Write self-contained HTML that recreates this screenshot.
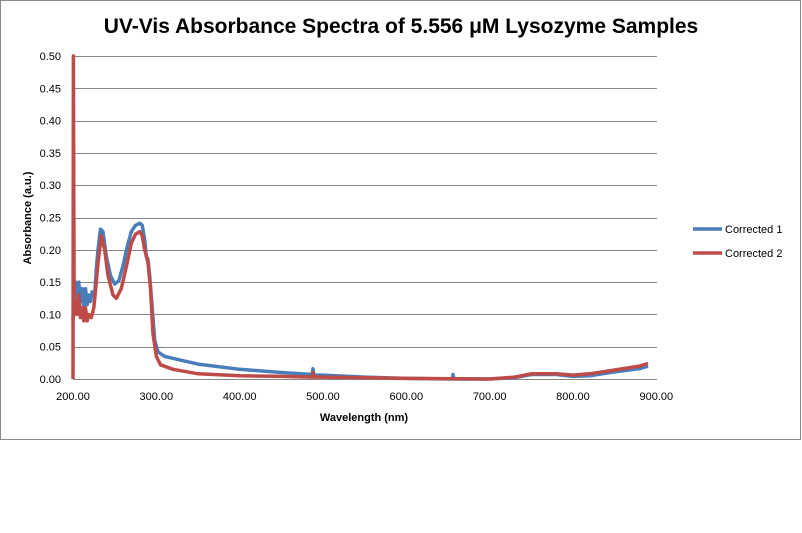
<!DOCTYPE html>
<html><head><style>
body{margin:0;background:#fff;}
svg{display:block;font-family:"Liberation Sans",Arial,sans-serif;}
</style></head><body>
<svg id="s" width="802" height="533" xmlns="http://www.w3.org/2000/svg">
<rect x="0.5" y="0.5" width="800" height="439" fill="#fff" stroke="#888" stroke-width="1"/>
<text x="401" y="33" text-anchor="middle" font-size="21" font-weight="bold" fill="#000">UV-Vis Absorbance Spectra of 5.556 μM Lysozyme Samples</text>
<g id="grid" stroke="#868686" stroke-width="1"></g>
<g id="ylab" font-size="11" fill="#000" text-anchor="end"></g>
<g id="xlab" font-size="11" fill="#000" text-anchor="middle"></g>
<line x1="73.5" y1="56" x2="73.5" y2="379" stroke="#868686"/>
<text x="364" y="421" text-anchor="middle" font-size="11" font-weight="bold">Wavelength (nm)</text>
<text transform="translate(31,218) rotate(-90)" text-anchor="middle" font-size="11" font-weight="bold">Absorbance  (a.u.)</text>
<polyline id="b" fill="none" stroke="#4a7ebb" stroke-width="3.5" stroke-linejoin="round"/>
<polyline id="r" fill="none" stroke="#be4b48" stroke-width="3.5" stroke-linejoin="round"/>
<line x1="693" y1="229" x2="722" y2="229" stroke="#4a7ebb" stroke-width="3.5"/>
<text x="725" y="233" font-size="11">Corrected 1</text>
<line x1="693" y1="253" x2="722" y2="253" stroke="#be4b48" stroke-width="3.5"/>
<text x="725" y="257" font-size="11">Corrected 2</text>
</svg>
<script>
var X=function(w){return 73+(w-200)*0.8333;},Y=function(a){return 379-a*646;};
var g=document.getElementById('grid'),yl=document.getElementById('ylab'),xl=document.getElementById('xlab');
var NS="http://www.w3.org/2000/svg";
for(var i=0;i<=10;i++){var y=Y(i*0.05);var l=document.createElementNS(NS,'line');
l.setAttribute('x1',73);l.setAttribute('x2',657);l.setAttribute('y1',Math.round(y)+0.5);l.setAttribute('y2',Math.round(y)+0.5);g.appendChild(l);
var t=document.createElementNS(NS,'text');t.setAttribute('x',61);t.setAttribute('y',y+4);t.textContent=(i*0.05).toFixed(2);yl.appendChild(t);}
for(var w=200;w<=900;w+=100){var t=document.createElementNS(NS,'text');t.setAttribute('x',X(w));t.setAttribute('y',400);t.textContent=w.toFixed(2);xl.appendChild(t);}
var B=[[200,0.09],[201,0.13],[202,0.1],[203,0.15],[205,0.13],[207,0.15],[209,0.12],[211,0.14],[213,0.11],[215,0.14],[217,0.115],[219,0.13],[221,0.12],[223,0.135],[226,0.13],[228,0.17],[230,0.2],[233,0.232],[236,0.228],[240,0.19],[245,0.16],[250,0.147],[255,0.152],[260,0.175],[265,0.205],[270,0.228],[275,0.238],[280,0.241],[283,0.238],[286,0.215],[288,0.19],[290,0.185],[292,0.16],[295,0.11],[298,0.06],[302,0.042],[310,0.035],[330,0.029],[350,0.023],[400,0.015],[450,0.01],[487,0.007],[488,0.016],[489,0.006],[500,0.006],[550,0.003],[600,0.001],[655,0],[656,0.007],[657,0],[700,0],[730,0.002],[750,0.007],[780,0.007],[800,0.004],[820,0.005],[850,0.011],[880,0.016],[890,0.02]];
var R=[[200,0],[200.5,0.5],[201,0.28],[201.5,0.1],[203,0.12],[205,0.1],[207,0.13],[209,0.095],[211,0.11],[213,0.09],[215,0.11],[217,0.09],[219,0.1],[222,0.095],[225,0.11],[228,0.15],[230,0.18],[234,0.222],[238,0.2],[242,0.16],[248,0.13],[252,0.125],[258,0.14],[265,0.18],[270,0.21],[275,0.224],[280,0.228],[283,0.222],[286,0.2],[290,0.18],[293,0.14],[296,0.07],[300,0.035],[305,0.022],[320,0.015],[350,0.008],[400,0.005],[450,0.004],[487,0.003],[488,0.01],[489,0.003],[500,0.003],[600,0.001],[700,0],[730,0.003],[750,0.008],[780,0.008],[800,0.006],[820,0.008],[850,0.014],[880,0.02],[890,0.024]];
function pts(a){return a.map(function(p){return X(p[0]).toFixed(1)+','+Y(p[1]).toFixed(1);}).join(' ');}
document.getElementById('b').setAttribute('points',pts(B));
document.getElementById('r').setAttribute('points',pts(R));
</script>
</body></html>
